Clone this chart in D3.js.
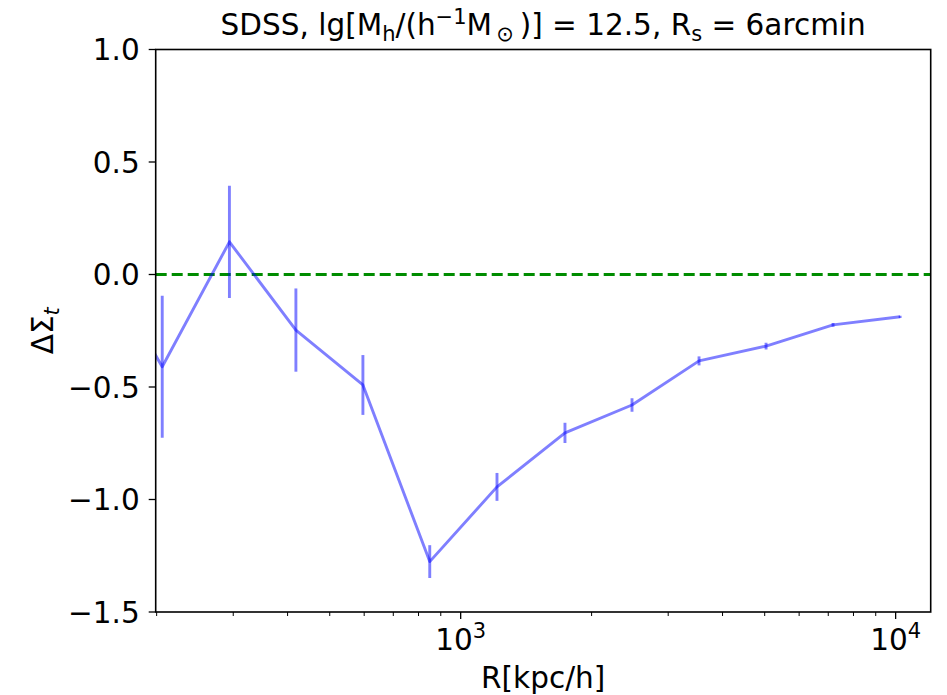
<!DOCTYPE html>
<html>
<head>
<meta charset="utf-8">
<script src="https://cdn.jsdelivr.net/npm/d3@7"></script>
<style>
  body { margin: 0; background: #fff; }
  text { font-family: "DejaVu Sans", sans-serif; fill: #000; }
</style>
</head>
<body>
<svg id="chart" width="947" height="695"></svg>
<script>
// radius bins (kpc/h), first one sits left of the visible range
var radius = [145, 206, 294, 418, 596, 849, 1212, 1737, 2477, 3532, 5036, 7180, 10240];
// excess surface density and its error
var deltaSigma = [0.10, -0.41, 0.145, -0.247, -0.491, -1.276, -0.944, -0.704, -0.58, -0.384, -0.318, -0.224, -0.188];
var sigmaErr = [0.25, 0.316, 0.249, 0.185, 0.133, 0.073, 0.062, 0.045, 0.03, 0.02, 0.015, 0.008, 0.005];

var yTicks = [1.0, 0.5, 0.0, -0.5, -1.0, -1.5];
var xMajor = [1000, 10000];
var xLabels = ["3", "4"];

const W = 947, H = 695;
const svg = d3.select("#chart");
const fs = 29.5, fsSmall = 21;

const x = d3.scaleLog().domain([199, 12040]).range([155.7, 930.7]);
const y = d3.scaleLinear().domain([-1.5, 1.0]).range([612, 49.5]);

const lineColor = "blue";

svg.append("clipPath").attr("id", "plotclip")
  .append("rect")
  .attr("x", x.range()[0]).attr("y", y.range()[1])
  .attr("width", x.range()[1] - x.range()[0])
  .attr("height", y.range()[0] - y.range()[1]);

const plot = svg.append("g").attr("clip-path", "url(#plotclip)");

// zero line
plot.append("line")
  .attr("x1", x.range()[0]).attr("x2", x.range()[1])
  .attr("y1", y(0)).attr("y2", y(0))
  .attr("stroke", "#008c00").attr("stroke-width", 2.8)
  .attr("stroke-dasharray", "11,5");

var pts = radius.map((r, i) => ({r: r, v: deltaSigma[i], e: sigmaErr[i]}));

// the line
plot.append("path")
  .datum(pts)
  .attr("fill", "none")
  .attr("stroke", lineColor).attr("stroke-opacity", 0.5)
  .attr("stroke-width", 2.9)
  .attr("stroke-linejoin", "round")
  .attr("d", d3.line().x(d => x(d.r)).y(d => y(d.v)));

// error bars
plot.selectAll("line.err")
  .data(pts)
  .enter().append("line")
  .attr("class", "err")
  .attr("x1", d => x(d.r)).attr("x2", d => x(d.r))
  .attr("y1", d => y(d.v - d.e)).attr("y2", d => y(d.v + d.e))
  .attr("stroke", lineColor).attr("stroke-opacity", 0.5)
  .attr("stroke-width", 2.9);

// frame
svg.append("rect")
  .attr("x", x.range()[0]).attr("y", y.range()[1])
  .attr("width", x.range()[1] - x.range()[0])
  .attr("height", y.range()[0] - y.range()[1])
  .attr("fill", "none").attr("stroke", "#000").attr("stroke-width", 1.6);

// y axis
const yAxis = svg.append("g");
const left = x.range()[0];
yTicks.forEach(t => {
  yAxis.append("line")
    .attr("x1", left - 7).attr("x2", left)
    .attr("y1", y(t)).attr("y2", y(t))
    .attr("stroke", "#000").attr("stroke-width", 1.3);
  yAxis.append("text")
    .attr("x", left - 16).attr("y", y(t) + 10.5)
    .attr("text-anchor", "end").attr("font-size", fs)
    .text(d3.format(".1f")(t).replace("-", "\u2212"));
});

// x axis: major and minor ticks
const xAxis = svg.append("g");
const bottom = y.range()[0];
var minor = [];
[100, 1000, 10000].forEach(dec => {
  for (let k = 2; k <= 9; k++) {
    let v = dec * k;
    if (v >= x.domain()[0] && v <= x.domain()[1]) minor.push(v);
  }
});
minor.forEach(v => {
  xAxis.append("line")
    .attr("x1", x(v)).attr("x2", x(v))
    .attr("y1", bottom).attr("y2", bottom + 4)
    .attr("stroke", "#000").attr("stroke-width", 1);
});
xMajor.forEach((v, i) => {
  xAxis.append("line")
    .attr("x1", x(v)).attr("x2", x(v))
    .attr("y1", bottom).attr("y2", bottom + 7)
    .attr("stroke", "#000").attr("stroke-width", 1.3);
  const t = xAxis.append("text")
    .attr("x", x(v)).attr("y", 650)
    .attr("text-anchor", "middle").attr("font-size", fs);
  t.append("tspan").text("10");
  t.append("tspan").attr("dy", -12).attr("font-size", fsSmall).text(xLabels[i]);
});

// x label
svg.append("text")
  .attr("x", (x.range()[0] + x.range()[1]) / 2).attr("y", 688)
  .attr("text-anchor", "middle").attr("font-size", fs)
  .text("R[kpc/h]");

// y label
const yl = svg.append("text")
  .attr("transform", "translate(53," + ((y.range()[0] + y.range()[1]) / 2) + ") rotate(-90)")
  .attr("text-anchor", "middle").attr("font-size", fs);
yl.append("tspan").text("\u0394\u03A3");
yl.append("tspan").attr("dy", 6).attr("font-size", fsSmall).attr("font-style", "italic").text("t");

// title
const title = svg.append("text")
  .attr("x", (x.range()[0] + x.range()[1]) / 2).attr("y", 35)
  .attr("text-anchor", "middle").attr("font-size", fs);
title.append("tspan").text("SDSS, lg[M");
title.append("tspan").attr("dy", 6).attr("font-size", fsSmall).text("h");
title.append("tspan").attr("dy", -6).text("/(h");
title.append("tspan").attr("dy", -11).attr("font-size", fsSmall).text("\u22121");
title.append("tspan").attr("dy", 11).text("M");
title.append("tspan").attr("dy", 6).attr("font-size", fsSmall).text("\u2009\u2299");
title.append("tspan").attr("dy", -6).text("\u2009)] = 12.5, R");
title.append("tspan").attr("dy", 6).attr("font-size", fsSmall).text("s");
title.append("tspan").attr("dy", -6).text(" = 6arcmin");
</script>
</body>
</html>
